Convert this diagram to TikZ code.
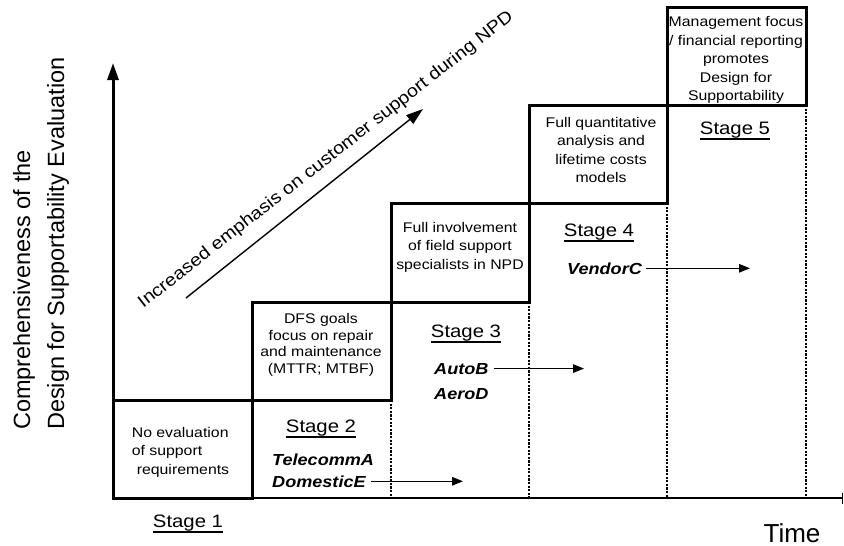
\documentclass[tikz,border=0pt]{standalone}
\usepackage{fontspec}
\setmainfont{Liberation Sans}
\newfontfamily\wfont[FakeStretch=1.13]{Liberation Sans}
\usetikzlibrary{arrows.meta}
\begin{document}
\begin{tikzpicture}[x=1pt,y=-1pt,
  boxline/.style={line width=3pt, line join=miter},
  dotline/.style={line width=2pt, dash pattern=on 2.2pt off 1.4pt},
  thinarrow/.style={line width=1.3pt,-{Triangle[length=11pt,width=8.5pt]}},
  boxtext/.style={font=\wfont\fontsize{14}{18.5}\selectfont, align=center, inner sep=0pt},
  stagelbl/.style={font=\wfont\fontsize{18}{22}\selectfont, inner xsep=0pt, inner ysep=1.2pt, anchor=base},
  comp/.style={font=\wfont\bfseries\itshape\fontsize{16}{20}\selectfont, inner sep=0pt, anchor=base west},
]
\useasboundingbox (0,0) rectangle (844,546);

% axes
\draw[line width=1.3pt, -{Bar[width=11pt]}] (113,498) -- (843,498);
\draw[line width=3pt, -{Triangle[length=17pt,width=11pt]}] (113,498) -- (113,63);

% boxes
\draw[boxline] (113,400) rectangle (252,498);
\draw[boxline] (252,302) rectangle (391,400);
\draw[boxline] (391,203) rectangle (529,302);
\draw[boxline] (529,105) rectangle (667,203);
\draw[boxline] (667,7) rectangle (806,105);

% dotted stage separators
\draw[dotline] (391,400) -- (391,498);
\draw[dotline] (529,302) -- (529,498);
\draw[dotline] (667,203) -- (667,498);
\draw[dotline] (806,105) -- (806,498);

% box texts
\node[boxtext, align=left] (t1) at (180.5,452) {No evaluation\\of support\\\hspace*{5pt}requirements};
\node[boxtext, font=\wfont\fontsize{14}{16.5}\selectfont] (t2) at (321,345) {DFS goals\\focus on repair\\and maintenance\\(MTTR; MTBF)};
\node[boxtext] (t3) at (460,247) {Full involvement\\of field support\\specialists in NPD};
\node[boxtext] (t4) at (601,150) {Full quantitative\\analysis and\\lifetime costs\\models};
\node[boxtext] (t5) at (736,60) {Management focus\\/ financial reporting\\promotes\\Design for\\Supportability};

% stage labels
\node[stagelbl] (s1) at (188,527) {Stage 1};
\node[stagelbl] (s2) at (321,432) {Stage 2};
\node[stagelbl] (s3) at (466,337) {Stage 3};
\node[stagelbl] (s4) at (599,236) {Stage 4};
\node[stagelbl] (s5) at (735,134) {Stage 5};
\foreach \s in {s1,s2,s3,s4,s5}
  \draw[line width=1.5pt] (\s.south west) -- (\s.south east);

% companies
\node[comp] (telA) at (272,465) {TelecommA};
\node[comp] (domE) at (272,487) {DomesticE};
\node[comp] (autB) at (434,374) {AutoB};
\node[comp] (aerD) at (434,399) {AeroD};
\node[comp] (venC) at (567,274) {VendorC};
\coordinate (eD) at (463,482);
\coordinate (eA) at (584,368);
\coordinate (eV) at (750,267);
\draw[thinarrow] ([xshift=5pt]domE.east) -- (domE.east -| eD);
\draw[thinarrow] ([xshift=5pt]autB.east) -- (autB.east -| eA);
\draw[thinarrow] ([xshift=4pt]venC.east) -- (venC.east -| eV);

% diagonal emphasis arrow
\coordinate (dA) at (186,298);
\coordinate (dB) at (423,109);
\draw[line width=1.4pt, -{Triangle[length=17pt,width=11pt]}] (dA) -- (dB);
\node[font=\wfont\fontsize{17.5}{22}\selectfont, rotate=38, inner sep=0pt] (emph) at (326,160) {Increased emphasis on customer support during NPD};

% axis labels
\node[font=\fontsize{23.5}{34}\selectfont, align=left, rotate=90, anchor=north west, inner sep=0pt] (ylab) at (13,430) {Comprehensiveness of the\\Design for Supportability Evaluation};
\node[font=\fontsize{26}{30}\selectfont, anchor=base, inner sep=0pt] (xlab) at (792,542) {Time};
\end{tikzpicture}
\end{document}
